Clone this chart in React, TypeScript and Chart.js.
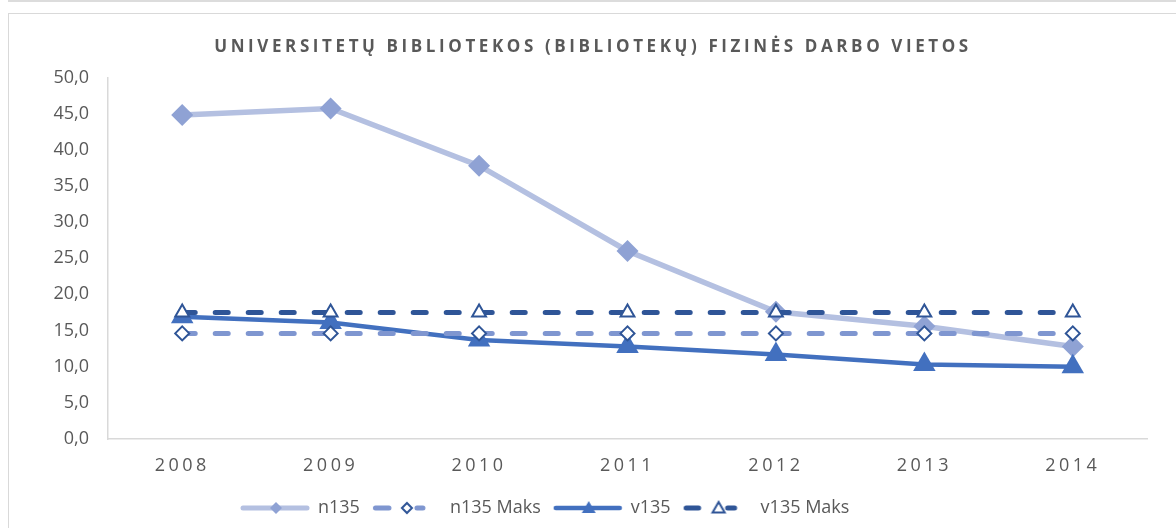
import { useEffect, useRef } from 'react';
import { Chart, registerables } from 'chart.js';

Chart.register(...registerables);

const years = ['2008', '2009', '2010', '2011', '2012', '2013', '2014'];
const n135 = [44.8, 45.7, 37.8, 26.0, 17.6, 15.6, 12.8];
const n135Maks = [14.6, 14.6, 14.6, 14.6, 14.6, 14.6, 14.6];
const v135 = [16.9, 16.1, 13.7, 12.8, 11.7, 10.3, 10.0];
const v135Maks = [17.5, 17.5, 17.5, 17.5, 17.5, 17.5, 17.5];
const seriesNames = ['n135', 'n135 Maks', 'v135', 'v135 Maks'];
const titleText = 'UNIVERSITETŲ BIBLIOTEKOS (BIBLIOTEKŲ) FIZINĖS DARBO VIETOS';
const yMin = 0;
const yMax = 50;
const yStep = 5;

const FONT = "'Open Sans', 'Noto Sans', sans-serif";
const COL = {
  n135Line: '#b4c0e1',
  n135Point: '#8fa2d4',
  n135Maks: '#7f96d0',
  v135: '#4270bf',
  v135Maks: '#2f5597',
  hollow: '#2f5597',
  text: '#595959',
  axis: '#d9d9d9',
};

function diamond(ctx: CanvasRenderingContext2D, x: number, y: number, r: number) {
  ctx.beginPath();
  ctx.moveTo(x - r, y);
  ctx.lineTo(x, y - r);
  ctx.lineTo(x + r, y);
  ctx.lineTo(x, y + r);
  ctx.closePath();
}
function triangle(ctx: CanvasRenderingContext2D, x: number, y: number, r: number) {
  ctx.beginPath();
  ctx.moveTo(x, y - r);
  ctx.lineTo(x + r * 0.866, y + r * 0.5);
  ctx.lineTo(x - r * 0.866, y + r * 0.5);
  ctx.closePath();
}

function makeSample(kind: number): HTMLCanvasElement {
  const c = document.createElement('canvas');
  c.width = 70;
  c.height = 20;
  const ctx = c.getContext('2d') as CanvasRenderingContext2D;
  const cy = 10;
  ctx.lineCap = 'round';
  if (kind === 0) {
    ctx.strokeStyle = COL.n135Line;
    ctx.lineWidth = 5;
    ctx.beginPath();
    ctx.moveTo(3, cy);
    ctx.lineTo(67, cy);
    ctx.stroke();
    ctx.fillStyle = COL.n135Point;
    diamond(ctx, 36, cy, 6);
    ctx.fill();
  } else if (kind === 1) {
    ctx.strokeStyle = COL.n135Maks;
    ctx.lineWidth = 5;
    ctx.beginPath();
    ctx.moveTo(3.5, cy);
    ctx.lineTo(17, cy);
    ctx.moveTo(45, cy);
    ctx.lineTo(51, cy);
    ctx.stroke();
    ctx.fillStyle = '#ffffff';
    ctx.strokeStyle = COL.hollow;
    ctx.lineWidth = 2;
    diamond(ctx, 35, cy, 5);
    ctx.fill();
    ctx.stroke();
  } else if (kind === 2) {
    ctx.strokeStyle = COL.v135;
    ctx.lineWidth = 4.5;
    ctx.beginPath();
    ctx.moveTo(3, cy);
    ctx.lineTo(67, cy);
    ctx.stroke();
    ctx.fillStyle = COL.v135;
    triangle(ctx, 36, cy + 1, 8);
    ctx.fill();
  } else {
    ctx.strokeStyle = COL.v135Maks;
    ctx.lineWidth = 5;
    ctx.beginPath();
    ctx.moveTo(3.5, cy);
    ctx.lineTo(16, cy);
    ctx.moveTo(45, cy);
    ctx.lineTo(52, cy);
    ctx.stroke();
    ctx.fillStyle = '#ffffff';
    ctx.strokeStyle = COL.hollow;
    ctx.lineWidth = 2;
    triangle(ctx, 36, cy + 1, 7);
    ctx.fill();
    ctx.stroke();
  }
  return c;
}

const LEGEND_LEFT = 219;
const LEGEND_TOP = 472;
const TITLE_CENTER = 584;

const tweakPlugin = {
  id: 'tweaks',
  afterLayout(chart: any) {
    const lg = chart.legend;
    if (lg) {
      const h = lg.height;
      lg.left = LEGEND_LEFT;
      lg.right = chart.width;
      lg.top = LEGEND_TOP;
      lg.bottom = LEGEND_TOP + h;
    }
    const tb = chart.titleBlock;
    if (tb) {
      const half = Math.min(TITLE_CENTER, chart.width - TITLE_CENTER);
      tb.left = TITLE_CENTER - half;
      tb.right = TITLE_CENTER + half;
      tb.width = 2 * half;
    }
  },
  beforeDraw(chart: any) {
    const tb = chart.titleBlock;
    if (tb && !tb._ls) {
      const orig = tb.draw;
      tb.draw = function (...a: any[]) {
        const ctx = this.ctx;
        ctx.save();
        ctx.letterSpacing = '3.6px';
        orig.apply(this, a);
        ctx.restore();
      };
      tb._ls = true;
    }
    const xs = chart.scales.x;
    if (xs && !xs._ls) {
      const origL = xs.drawLabels;
      xs.drawLabels = function (...a: any[]) {
        const ctx = this.ctx;
        ctx.save();
        ctx.letterSpacing = '3.5px';
        origL.apply(this, a);
        ctx.restore();
      };
      xs._ls = true;
    }
  },
};

export default function App() {
  const ref = useRef<HTMLCanvasElement | null>(null);

  useEffect(() => {
    if (!ref.current) return;
    const dash = [13, 20];
    const chart = new Chart(ref.current, {
      type: 'line',
      data: {
        labels: years,
        datasets: [
          {
            label: seriesNames[0],
            data: n135,
            borderColor: COL.n135Line,
            borderWidth: 5.5,
            pointStyle: 'rectRot',
            pointRadius: 11,
            pointBackgroundColor: COL.n135Point,
            pointBorderColor: COL.n135Point,
            pointBorderWidth: 0,
            order: 4,
          },
          {
            label: seriesNames[1],
            data: n135Maks,
            borderColor: COL.n135Maks,
            borderWidth: 5,
            borderDash: dash,
            borderCapStyle: 'round',
            pointStyle: 'rectRot',
            pointRadius: 7,
            pointBackgroundColor: '#ffffff',
            pointBorderColor: COL.hollow,
            pointBorderWidth: 2,
            order: 2,
          },
          {
            label: seriesNames[2],
            data: v135,
            borderColor: COL.v135,
            borderWidth: 4.5,
            pointStyle: 'triangle',
            pointRadius: 13,
            pointBackgroundColor: COL.v135,
            pointBorderColor: COL.v135,
            pointBorderWidth: 0,
            order: 3,
          },
          {
            label: seriesNames[3],
            data: v135Maks,
            borderColor: COL.v135Maks,
            borderWidth: 5,
            borderDash: dash,
            borderCapStyle: 'round',
            pointStyle: 'triangle',
            pointRadius: 8,
            pointBackgroundColor: '#ffffff',
            pointBorderColor: COL.hollow,
            pointBorderWidth: 2,
            order: 1,
          },
        ],
      },
      options: {
        responsive: false,
        animation: false,
        devicePixelRatio: 1,
        layout: { padding: { left: 0, top: 0, bottom: 0, right: 29 } },
        plugins: {
          title: {
            display: true,
            text: titleText,
            color: COL.text,
            font: { family: FONT, size: 17, weight: 'bold' },
            padding: { top: 23, bottom: 20 },
          },
          legend: {
            position: 'bottom',
            align: 'start',
            labels: {
              usePointStyle: true,
              pointStyleWidth: 68,
              boxHeight: 18,
              padding: 13,
              color: COL.text,
              font: { family: FONT, size: 18 },
              generateLabels: (ch: any) =>
                ch.data.datasets.map((ds: any, i: number) => ({
                  text: ds.label,
                  pointStyle: makeSample(i),
                  fillStyle: 'transparent',
                  strokeStyle: 'transparent',
                  lineWidth: 0,
                  hidden: false,
                  datasetIndex: i,
                  fontColor: COL.text,
                })),
            },
          },
          tooltip: { enabled: false },
        },
        scales: {
          x: {
            offset: true,
            grid: { display: false, drawTicks: false, offset: true },
            border: { display: true, color: COL.axis, width: 1.5 },
            ticks: { color: COL.text, font: { family: FONT, size: 18 }, padding: 16 },
            afterFit: (s: any) => {
              s.height = 48;
            },
          },
          y: {
            min: yMin,
            max: yMax,
            grid: { display: false, drawTicks: false },
            border: { display: true, color: COL.axis, width: 1.5 },
            ticks: {
              stepSize: yStep,
              color: COL.text,
              font: { family: FONT, size: 18 },
              padding: 19,
              callback: (v: any) => Number(v).toFixed(1).replace('.', ','),
            },
            afterFit: (s: any) => {
              s.width = 99;
            },
          },
        },
      },
      plugins: [tweakPlugin],
    } as any);
    return () => chart.destroy();
  }, []);

  return (
    <div style={{ position: 'absolute', left: 0, top: 0, width: 1176, height: 528, overflow: 'hidden', background: '#ffffff' }}>
      <div style={{ position: 'absolute', left: 8, top: 0, right: 0, height: 2, background: '#dcdcdc' }} />
      <div
        style={{
          position: 'absolute',
          left: 8,
          top: 13,
          width: 1300,
          height: 700,
          borderLeft: '1px solid #d9d9d9',
          borderTop: '1px solid #d9d9d9',
        }}
      />
      <canvas
        ref={ref}
        width={1167}
        height={514}
        style={{ position: 'absolute', left: 9, top: 14, width: 1167, height: 514 }}
      />
    </div>
  );
}
